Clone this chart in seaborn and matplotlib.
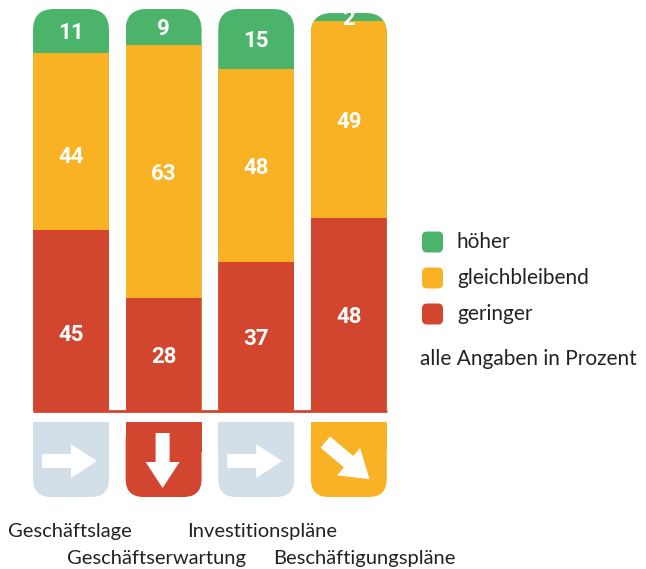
import numpy as np
import pandas as pd
import matplotlib
matplotlib.use("Agg")
import matplotlib.pyplot as plt
import seaborn as sns
from matplotlib.patches import FancyBboxPatch, Rectangle, Polygon

# Daten
kategorien = ["Geschäftslage", "Geschäftserwartung", "Investitionspläne", "Beschäftigungspläne"]
hoeher = [11, 9, 15, 2]
gleich = [44, 63, 48, 49]
geringer = [45, 28, 37, 48]
trend = ["gleich", "runter", "gleich", "leicht runter"]

GRUEN = "#4cb36a"
ORANGE = "#f9b224"
ROT = "#d2452f"
HELL = "#d2dee8"

sns.set_style("white")
plt.rcParams["font.family"] = ["Lato", "DejaVu Sans"]

df = pd.DataFrame({"kat": kategorien, "hoeher": hoeher, "gleich": gleich, "geringer": geringer})
df["summe"] = df["hoeher"] + df["gleich"] + df["geringer"]
df["bis_gleich"] = df["gleich"] + df["geringer"]

W, H = 646, 569
fig = plt.figure(figsize=(W / 100, H / 100), dpi=100)

# Achse fuer die Balken (Pixel: y=411 -> 0, y=9 -> 100)
ax = fig.add_axes([24.7 / W, (H - 411) / H, 370.4 / W, 402 / H])
deco = fig.add_axes([0, 0, 1, 1], zorder=-1)
deco.set_xlim(0, W)
deco.set_ylim(H, 0)
deco.axis("off")

bw = 0.82
sns.barplot(data=df, x="kat", y="summe", color=GRUEN, saturation=1, width=bw, linewidth=0, ax=ax)
sns.barplot(data=df, x="kat", y="bis_gleich", color=ORANGE, saturation=1, width=bw, linewidth=0, ax=ax)
sns.barplot(data=df, x="kat", y="geringer", color=ROT, saturation=1, width=bw, linewidth=0, ax=ax)
ax.set_xlim(-0.5, 3.5)
ax.set_ylim(0, 100)
ax.axis("off")
ax.patch.set_alpha(0)


def to_px(x, y):
    d = ax.transData.transform((x, y))
    return deco.transData.inverted().transform(d)


# runde Ecken oben an den Balken
n = len(kategorien)
for p in ax.patches:
    i = int(round(p.get_x() + p.get_width() / 2))
    x0, ytop = to_px(i - bw / 2, df["summe"][i])
    x1, ybot = to_px(i + bw / 2, 0)
    clip = FancyBboxPatch((x0, ytop), x1 - x0, ybot + 30 - ytop,
                          boxstyle="round,pad=0,rounding_size=21", transform=deco.transData)
    p.set_clip_path(clip)

# Werte (im Original sitzen die Zahlen des ersten Balkens etwas tiefer)
versatz = {(0, 0): 12, (0, 1): 13}
for i in range(n):
    segs = [(0, geringer[i]), (geringer[i], gleich[i]), (geringer[i] + gleich[i], hoeher[i])]
    for j, (unten, wert) in enumerate(segs):
        dy = 2 + versatz.get((i, j), 0)
        ax.annotate(str(wert), (i, unten + wert / 2), xytext=(0, -dy), textcoords="offset pixels",
                    ha="center", va="center", color="white", fontsize=16, fontweight="bold",
                    family="Roboto", annotation_clip=False)

# rote Grundlinie
xl, yb = to_px(-bw / 2, 0)
xr, _ = to_px(n - 1 + bw / 2, 0)
deco.plot([xl, xr], [yb, yb], color=ROT, lw=2, solid_capstyle="butt")

# Pfeil-Symbole
pfeil = np.array([(-28, -7), (1, -7), (1, -17), (27, 0), (1, 17), (1, 7), (-28, 7)], float)
farben = {"gleich": HELL, "runter": ROT, "leicht runter": ORANGE}
winkel = {"gleich": 0, "runter": 90, "leicht runter": 40}
for i, t in enumerate(trend):
    x0, _ = to_px(i - bw / 2, 0)
    x1, _ = to_px(i + bw / 2, 0)
    top, bot = 422, 497
    deco.add_patch(FancyBboxPatch((x0, top), x1 - x0, bot - top,
                                  boxstyle="round,pad=0,rounding_size=18", fc=farben[t], ec="none"))
    deco.add_patch(Rectangle((x0, top), x1 - x0, 30, fc=farben[t], ec="none"))
    a = np.deg2rad(winkel[t])
    rot = np.array([[np.cos(a), -np.sin(a)], [np.sin(a), np.cos(a)]])
    s = 1.05 if t == "leicht runter" else 1.0
    pts = (pfeil * s) @ rot.T + [(x0 + x1) / 2 - 1, 461]
    deco.add_patch(Polygon(pts, closed=True, fc="white", ec="none"))

# Kategorien-Beschriftung
beschr = [(70, 537), (157, 564), (262.5, 537), (364.5, 564)]
for k, (x, y) in zip(kategorien, beschr):
    deco.text(x, y, k, ha="center", va="baseline", fontsize=14.5, color="#222222")

# Legende
for y, c, lab in [(242, GRUEN, "höher"), (278, ORANGE, "gleichbleibend"), (314, ROT, "geringer")]:
    deco.add_patch(FancyBboxPatch((422, y - 10.5), 21, 21, boxstyle="round,pad=0,rounding_size=5",
                                  fc=c, ec="none"))
    deco.text(457, y, lab, va="center", ha="left", fontsize=15, color="#222222")
deco.text(420, 359, "alle Angaben in Prozent", va="center", ha="left", fontsize=15, color="#222222")

fig.savefig("out.png", dpi=100)
